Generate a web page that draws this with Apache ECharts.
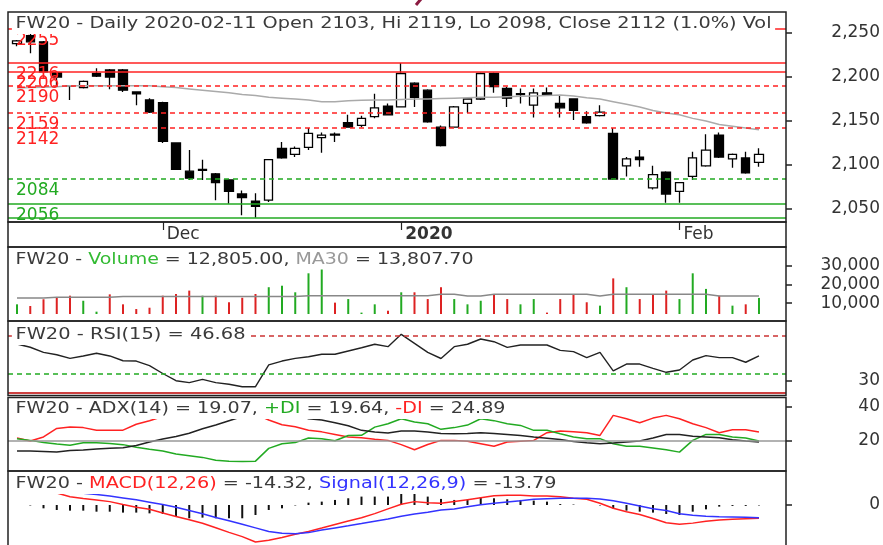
<!DOCTYPE html>
<html>
<head>
<meta charset="utf-8">
<script src="https://cdn.jsdelivr.net/npm/echarts@6/dist/echarts.min.js"></script>
<style>
html,body{margin:0;padding:0;background:#fff;}
#chart{width:883px;height:545px;}
</style>
</head>
<body>
<div id="chart"></div>
<script>
// trading days, FW20 daily
var dates = ['2019-11-15','2019-11-18','2019-11-19','2019-11-20','2019-11-21','2019-11-22','2019-11-25','2019-11-26','2019-11-27','2019-11-28',
  '2019-11-29','2019-12-02','2019-12-03','2019-12-04','2019-12-05','2019-12-06','2019-12-09','2019-12-10','2019-12-11','2019-12-12',
  '2019-12-13','2019-12-16','2019-12-17','2019-12-18','2019-12-19','2019-12-20','2019-12-23','2019-12-27','2019-12-30','2020-01-02',
  '2020-01-03','2020-01-07','2020-01-08','2020-01-09','2020-01-10','2020-01-13','2020-01-14','2020-01-15','2020-01-16','2020-01-17',
  '2020-01-20','2020-01-21','2020-01-22','2020-01-23','2020-01-24','2020-01-27','2020-01-28','2020-01-29','2020-01-30','2020-01-31',
  '2020-02-03','2020-02-04','2020-02-05','2020-02-06','2020-02-07','2020-02-10','2020-02-11'];

var opens = [2238,2247,2240,2205,2190,2188,2204,2208,2208,2183, 2174,2171,2125,2093,2095,2090,2083,2067,2059,2060,
  2119,2112,2120,2131,2134,2148,2145,2155,2167,2166, 2193,2185,2143,2143,2170,2175,2204,2187,2181,2168,
  2182,2170,2175,2155,2156,2136,2099,2109,2074,2092, 2070,2087,2099,2134,2107,2108,2103];
var closes = [2241,2240,2206,2200,2190,2195,2201,2200,2185,2181, 2160,2127,2095,2085,2094,2080,2070,2063,2053,2106,
  2108,2119,2136,2134,2135,2143,2153,2165,2157,2204, 2177,2149,2122,2166,2175,2204,2189,2176,2180,2182,
  2180,2165,2162,2148,2160,2084,2107,2106,2089,2067, 2080,2108,2117,2109,2112,2091,2112];
var highs = [2242,2249,2241,2206,2191,2196,2210,2209,2209,2183, 2176,2172,2125,2117,2106,2091,2084,2071,2068,2106,
  2126,2121,2142,2137,2137,2157,2156,2181,2170,2216, 2194,2186,2145,2167,2176,2205,2205,2189,2187,2187,
  2188,2179,2175,2161,2168,2142,2109,2117,2099,2093, 2080,2115,2135,2137,2113,2115,2119];
var lows = [2235,2227,2205,2189,2174,2187,2200,2186,2183,2168, 2159,2125,2095,2083,2083,2060,2056,2043,2040,2058,
  2107,2109,2117,2114,2126,2143,2143,2153,2157,2166, 2166,2148,2121,2143,2159,2174,2182,2166,2170,2154,
  2179,2154,2151,2147,2155,2083,2087,2098,2072,2057, 2057,2083,2098,2108,2097,2090,2098];
var priceMa = [2187.5,2188,2188.5,2189,2190,2190,2190,2190,2190,2190, 2190,2189,2188,2186.5,2185,2183.5,2182,2180,2179,2177,
  2176,2175,2174,2172,2172,2173,2173.5,2174,2174,2174.5, 2175,2175,2175.5,2176,2176.5,2177,2177,2177.5,2178,2178.5,
  2179,2179.5,2178.5,2176.5,2175,2172,2169,2166,2162,2159, 2157,2153,2150,2146,2144,2142,2140];

var resistSolid = [2255, 2216, 2206];
var resistDashed = [2190, 2159, 2142];
var supportDashed = [2084];
var supportSolid = [2056];
var floorLine = [2040];

var volumes = [9400,8500,12100,13100,14000,11300,5500,14700,9400,6900, 7600,14000,14900,16700,14000,14000,10500,12900,14900,18500,
  19300,15800,25900,28200,10300,12200,5000,9400,6000,15800, 15800,12200,18500,12200,9400,11300,14400,12200,9400,12200,
  5000,12200,14700,10500,8700,23200,18500,12200,14700,16700, 12200,25900,17600,14000,8700,9400,12805];
var volUp = [1,0,0,0,0,1,1,0,0,0, 0,0,0,0,1,0,0,0,0,1, 1,1,1,1,0,1,1,1,0,1,
  0,0,0,1,1,1,0,0,1,1, 0,0,0,0,1,0,1,0,0,0, 1,1,1,0,1,0,1];
var volMa = [12700,12700,12700,13100,13100,13100,13100,13100,13500,13500, 13500,13500,13500,13500,13500,13500,13500,13500,13500,13500,
  13500,13500,14000,14000,14000,14000,14000,14000,14000,14000, 14000,14000,14700,14700,13800,13800,14700,14700,14700,14700,
  14700,14700,14700,14700,13800,14700,14700,14700,14700,14700, 14700,14700,14700,13800,13800,13800,13807.7];

var rsi = [54.7,52.5,49.1,47.5,45.1,46.7,48.5,46.7,43.5,43.3, 40.2,35,30.2,28.9,31.1,28.9,27.8,26.2,26.2,40.7,
  43.3,45.1,46.2,47.8,47.8,50,52.2,54.5,52.9,61.1, 55.1,49.1,45,52.9,54.5,58,56.2,52.4,54,54,
  54,50.4,49.6,45.6,49.1,36.7,41.3,41.3,38.4,35.8, 37.3,44,46.9,45.6,45.6,42.5,46.68];
var rsiLevels = [60, 35, 22];

var minusDi = [21.4,19.6,22,27,27.8,27.5,26,26,26,29.5, 31.5,34,36,37.5,38.5,39,38,36.5,35.5,32,
  29.2,28,26,25,23.5,22,21.5,20.6,20,17.5, 14.5,17.6,20,20,19.5,18,16.5,19,19.5,20,
  24.5,25.5,25,24.5,22.9,34.7,32.7,30.4,33.1,34.7, 32.7,29.8,27.5,24.5,26.3,26.3,24.89];
var plusDi = [21,20,18.7,17.8,17.1,18.6,18.6,18.2,17.5,16, 14.8,13.8,12,11,10,8.3,7.8,7.6,7.8,15.3,
  18,18.7,21.4,21,19.8,22.9,23,27.8,29.8,32.7, 30.8,29.8,26.5,27.5,29,32.7,31.6,29.8,28.8,25.9,
  25.9,23.9,22,21,21,18,16.5,16.5,15.5,14.5, 13.1,20,23.5,23.5,22,21.4,19.64];
var adx = [13.7,13.7,13.4,13.1,14,14.4,15,15.3,15.6,17, 19,20.8,22.3,24.2,26.8,29,31.5,34,36.5,38.5,
  38.5,36,32.7,32,30.4,28.6,25.9,24.9,24.3,25.5, 25.5,24.9,24,23.9,24,24.5,24,23.4,22.8,22,
  21.3,20.5,19.4,18.6,18,18.4,19,19.6,21.4,23.5, 23.4,22.4,22,21.6,20.4,19.6,19.07];
var adxLevel = 20;

var macd = [22,19,16,12.8,8.9,7,5.3,3.6,0.5,-2.5, -4.6,-8.7,-12.3,-15.8,-19.7,-24.5,-29.4,-34,-39.8,-38,
  -35,-31.5,-28.5,-24.8,-21,-17.3,-13.8,-9.3,-4.2,0.7, 3.6,2.5,1.8,3.8,5.6,7.7,9.8,10.5,10.5,9.7,
  9.7,8.8,7.2,6.1,1.8,-3.6,-7.2,-10.2,-14.5,-19, -20.8,-19.5,-17.6,-16.1,-15.4,-14.8,-14.32];
var signal = [21,19,17,15.5,13.8,12.5,11.2,9.7,7.6,5.5, 3,0.4,-2.5,-6,-9.5,-13.4,-17,-20.8,-24.6,-28.4,
  -30.5,-31,-29.7,-27,-24.7,-22.4,-20,-17.5,-15,-12, -9.6,-7.8,-5.4,-4.3,-2,0.3,1.8,3.2,4.6,6.1,
  6.8,7.2,7.2,7.2,6.5,4.5,1.8,-1,-4,-6, -9.5,-11,-12,-12.6,-12.8,-13.3,-13.79];
var macdHist = [0,-0.5,-3.6,-5.4,-6.1,-6.1,-7.2,-7.2,-8.2,-8.2, -9,-9.7,-11.8,-14.3,-13.6,-14.3,-14.3,-14.3,-10.8,-5.4,
  -3.6,-0.5,2.5,3.6,5.4,7.2,9,9,9,13.3, 13.3,9,6.5,5.4,6.1,8.2,7.2,6.1,5.4,4.7,
  3.6,1,0.5,0,-0.5,-3.6,-6.1,-7.2,-8.2,-9.7, -10.8,-7.2,-4.7,-1.8,-1,-1,-0.5];

var priceTicks = [2050, 2100, 2150, 2200, 2250];
var volTicks = [10000, 20000, 30000];
var rsiTicks = [30];
var adxTicks = [20, 40];
var macdTicks = [0];

var FONT = 'DejaVu Sans';
var RED = '#f22', GREEN = '#2a2', DARK = '#333';
var N = dates.length;
var last = N - 1;

function pts(arr){
    return arr.map(function(v, i){ return [i, v]; });
}
function fmt(v){ return v.toLocaleString('en-US'); }
function fmt2(v){ return v.toLocaleString('en-US', {minimumFractionDigits: 2, maximumFractionDigits: 2}); }

var monthNames = ['Jan','Feb','Mar','Apr','May','Jun','Jul','Aug','Sep','Oct','Nov','Dec'];
var monthStarts = [];
for (var i = 1; i < N; i++) {
    if (dates[i].slice(5, 7) !== dates[i - 1].slice(5, 7)) monthStarts.push(i);
}
function dateLabel(v){
    var d = dates[Math.round(v)];
    var m = +d.slice(5, 7);
    return m === 1 ? '{y|' + d.slice(0, 4) + '}' : monthNames[m - 1];
}

// panels, pixel layout
var panels = [
    {top: 12, height: 210, min: 2035.2, max: 2273.9, ticks: priceTicks},
    {top: 247, height: 67, min: 4255, max: 39894, ticks: volTicks},
    {top: 321, height: 75, min: 20, max: 70, ticks: rsiTicks},
    {top: 397.5, height: 73.5, min: 2, max: 45.2, ticks: adxTicks},
    {top: 471, height: 74, min: -43, max: 36.5, ticks: macdTicks}
];

var grids = [], xAxes = [], yAxes = [];
panels.forEach(function(p, k){
    grids.push({left: 8, right: 97, top: p.top, height: p.height});
    xAxes.push({
        type: 'value', gridIndex: k, min: -0.68, max: 58.04,
        splitLine: {show: false}, axisLine: {show: false, onZero: false},
        axisTick: {show: k === 0, customValues: monthStarts, length: 8, lineStyle: {color: '#222', width: 1.2}},
        axisLabel: {show: k === 0, customValues: monthStarts, formatter: dateLabel, align: 'left',
            margin: 4, padding: [0, 0, 0, 4], color: DARK, fontSize: 17, fontFamily: FONT,
            rich: {y: {fontWeight: 'bold', fontSize: 17, fontFamily: FONT, color: DARK}}}
    });
    yAxes.push({
        type: 'value', gridIndex: k, position: 'right', min: p.min, max: p.max,
        splitLine: {show: false}, axisLine: {show: false, onZero: false},
        axisTick: {show: true, customValues: p.ticks, length: 6, lineStyle: {color: '#222', width: 1.5}},
        axisLabel: {customValues: p.ticks, formatter: fmt, margin: 94, align: 'right',
            color: DARK, fontSize: 17, fontFamily: FONT}
    });
});

function level(v, color, type, withLabel){
    return {
        yAxis: v,
        lineStyle: {color: color, type: type, width: 1.5},
        label: {show: withLabel, position: 'insideStartBottom', formatter: String(v), color: color,
            fontSize: 17, fontFamily: FONT, distance: [8, 3]}
    };
}
var levelData = [];
resistSolid.forEach(function(v){ levelData.push(level(v, RED, 'solid', true)); });
resistDashed.forEach(function(v){ levelData.push(level(v, RED, [5, 4], true)); });
supportDashed.forEach(function(v){ levelData.push(level(v, GREEN, [5, 4], true)); });
supportSolid.forEach(function(v){ levelData.push(level(v, GREEN, 'solid', true)); });
floorLine.forEach(function(v){ levelData.push(level(v, GREEN, 'solid', false)); });

function hline(v, color, type){
    return {yAxis: v, lineStyle: {color: color, type: type, width: 1.5}, label: {show: false}};
}

var candles = opens.map(function(o, i){ return [i, o, closes[i], lows[i], highs[i]]; });
var volBars = volumes.map(function(v, i){
    return {value: [i, v], itemStyle: {color: volUp[i] ? GREEN : '#d22'}};
});

function lineSeries(k, arr, color, width){
    return {type: 'line', xAxisIndex: k, yAxisIndex: k, data: pts(arr), symbol: 'none',
        lineStyle: {color: color, width: width || 1.5}, silent: true};
}

var rsiSeries = lineSeries(2, rsi, '#222', 1.4);
rsiSeries.markLine = {symbol: ['none', 'none'], silent: true, animation: false,
    data: [hline(rsiLevels[0], '#c33', [5, 4]), hline(rsiLevels[1], GREEN, [5, 4]), hline(rsiLevels[2], '#b00', 'solid')]};

var adxSeries = lineSeries(3, adx, '#222', 1.5);
adxSeries.markLine = {symbol: ['none', 'none'], silent: true, animation: false,
    data: [hline(adxLevel, '#999', 'solid')]};

// titles: stretched a little so they span the same width as the original
var ctx = document.createElement('canvas').getContext('2d');
function title(text, y, width, rich){
    var plain = text.replace(/\{\w+\|/g, '').replace(/\}/g, '');
    ctx.font = '16px "' + FONT + '"';
    var sx = width / ctx.measureText(plain).width;
    var r = {};
    for (var key in (rich || {})) {
        r[key] = {fill: rich[key], fontSize: 16, fontFamily: FONT};
    }
    return {type: 'text', x: 15.5 - 3 * sx, y: y, scaleX: sx, z: 100, silent: true,
        style: {text: text, fill: '#3a3a3a', fontSize: 16, fontFamily: FONT, rich: r,
            backgroundColor: '#fff', padding: [2, 3, 2, 3], verticalAlign: 'top'}};
}
var chg = (closes[last] - closes[last - 1]) / closes[last - 1] * 100;
var t1 = 'FW20 - Daily ' + dates[last] + ' Open ' + opens[last] + ', Hi ' + highs[last] + ', Lo ' + lows[last] +
    ', Close ' + closes[last] + ' (' + chg.toFixed(1) + '%) Vol';
var t2 = 'FW20 - {g|Volume} = ' + fmt2(volumes[last]) + ', {m|MA30} = ' + fmt2(volMa[last]);
var t3 = 'FW20 - RSI(15) = ' + rsi[last].toFixed(2);
var t4 = 'FW20 - ADX(14) = ' + adx[last].toFixed(2) + ', {g|+DI} = ' + plusDi[last].toFixed(2) + ', {r|-DI} = ' + minusDi[last].toFixed(2);
var t5 = 'FW20 - {r|MACD(12,26)} = ' + macd[last].toFixed(2) + ', {b|Signal(12,26,9)} = ' + signal[last].toFixed(2);

function frame(y, h){
    return {type: 'rect', z: 60, silent: true, shape: {x: 8, y: y, width: 778, height: h},
        style: {fill: 'none', stroke: '#222', lineWidth: 1.5}};
}

var option = {
    animation: false,
    backgroundColor: '#fff',
    grid: grids,
    xAxis: xAxes,
    yAxis: yAxes,
    graphic: [
        frame(12, 210), frame(222, 25), frame(247, 74), frame(321, 74.5), frame(397.5, 73.5), frame(471, 90),
        // cut-off glyph of the page heading above the chart
        {type: 'line', z: 60, silent: true, shape: {x1: 421, y1: -1, x2: 416, y2: 5},
            style: {stroke: '#8b1a40', lineWidth: 3}},
        title(t1, 14, 756),
        title(t2, 249.5, 458, {g: '#3b3', m: '#999'}),
        title(t3, 325, 230),
        title(t4, 399, 490, {g: '#2a2', r: RED}),
        title(t5, 474, 541, {r: RED, b: '#33f'})
    ],
    series: [
        {
            type: 'candlestick', xAxisIndex: 0, yAxisIndex: 0, data: candles,
            encode: {x: 0, y: [1, 2, 3, 4]}, barWidth: 9, silent: true,
            itemStyle: {color: '#fff', color0: '#000', borderColor: '#000', borderColor0: '#000', borderWidth: 1.3},
            markLine: {symbol: ['none', 'none'], silent: true, animation: false, data: levelData}
        },
        lineSeries(0, priceMa, '#aaa', 1.5),
        {type: 'bar', xAxisIndex: 1, yAxisIndex: 1, data: volBars, barWidth: 2, silent: true, clip: true},
        lineSeries(1, volMa, '#888', 1.5),
        rsiSeries,
        lineSeries(3, minusDi, RED, 1.5),
        lineSeries(3, plusDi, '#2a2', 1.5),
        adxSeries,
        {type: 'bar', xAxisIndex: 4, yAxisIndex: 4, data: pts(macdHist), barWidth: 2, silent: true,
            itemStyle: {color: '#111'}},
        lineSeries(4, macd, RED, 1.5),
        lineSeries(4, signal, '#33f', 1.5)
    ]
};

var chart = echarts.init(document.getElementById('chart'));
chart.setOption(option);
</script>
</body>
</html>
